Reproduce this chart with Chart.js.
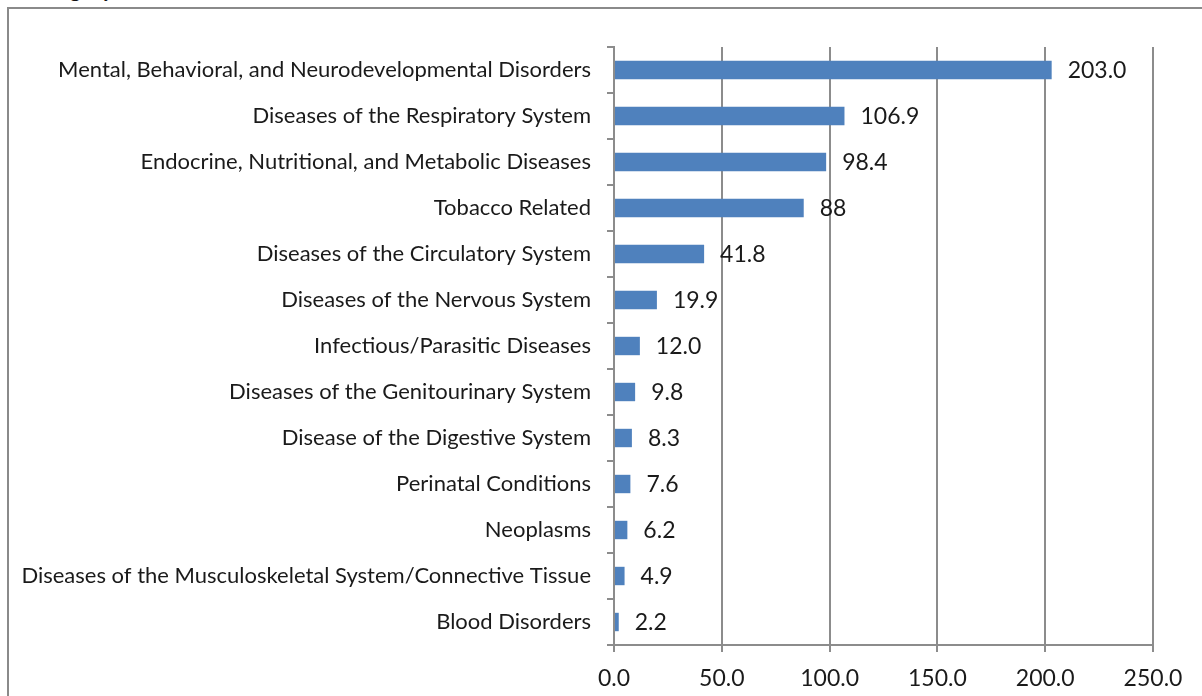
<!DOCTYPE html>
<html>
<head>
<meta charset="utf-8">
<script src="https://cdn.jsdelivr.net/npm/chart.js@4"></script>
<style>
  html, body { margin: 0; padding: 0; background: #fff; overflow: hidden; }
  #wrap { position: relative; width: 1202px; height: 696px; }
  #frame { position: absolute; left: 7px; top: 7px; width: 1220px; height: 720px; border-left: 2px solid #8a8a8a; border-top: 2px solid #8a8a8a; }
  #title { position: absolute; left: 24px; top: -25px; font: bold 22px Lato, sans-serif; color: #111; white-space: nowrap; }
  canvas { position: absolute; left: 0; top: 0; }
</style>
</head>
<body>
<div id="wrap">
  <div id="title">Category</div>
  <div id="frame"></div>
  <canvas id="chart" width="1202" height="696"></canvas>
</div>
<script>
const categories = [
  "Mental, Behavioral, and Neurodevelopmental Disorders",
  "Diseases of the Respiratory System",
  "Endocrine, Nutritional, and Metabolic Diseases",
  "Tobacco Related",
  "Diseases of the Circulatory System",
  "Diseases of the Nervous System",
  "Infectious/Parasitic Diseases",
  "Diseases of the Genitourinary System",
  "Disease of the Digestive System",
  "Perinatal Conditions",
  "Neoplasms",
  "Diseases of the Musculoskeletal System/Connective Tissue",
  "Blood Disorders"
];
const values = [203.0, 106.9, 98.4, 88, 41.8, 19.9, 12.0, 9.8, 8.3, 7.6, 6.2, 4.9, 2.2];
const valueLabels = ["203.0", "106.9", "98.4", "88", "41.8", "19.9", "12.0", "9.8", "8.3", "7.6", "6.2", "4.9", "2.2"];
const xTicks = [0, 50, 100, 150, 200, 250];

const gridGray = '#8c8c8c';

// draws the number next to each bar
const barLabels = {
  id: 'barLabels',
  afterDatasetsDraw(chart) {
    const ctx = chart.ctx;
    const meta = chart.getDatasetMeta(0);
    ctx.save();
    ctx.font = '23px Lato, sans-serif';
    ctx.fillStyle = '#1a1a1a';
    ctx.textBaseline = 'middle';
    ctx.textAlign = 'left';
    meta.data.forEach((bar, i) => {
      ctx.fillText(valueLabels[i], bar.x + 16, bar.y + 1);
    });
    ctx.restore();
  }
};

new Chart(document.getElementById('chart'), {
  type: 'bar',
  data: {
    labels: categories,
    datasets: [{
      data: values,
      backgroundColor: '#4f81bd',
      borderColor: '#4f81bd',
      borderWidth: 0,
      categoryPercentage: 1,
      barPercentage: 0.4
    }]
  },
  options: {
    indexAxis: 'y',
    responsive: false,
    animation: false,
    layout: { padding: { left: 0, right: 49, top: 47, bottom: 0 } },
    plugins: {
      legend: { display: false },
      tooltip: { enabled: false }
    },
    scales: {
      x: {
        min: 0,
        max: 250,
        afterBuildTicks(scale) {
          scale.ticks = xTicks.map(v => ({ value: v }));
        },
        afterFit(scale) { scale.height = 51; },
        grid: { color: gridGray, lineWidth: 2, tickLength: 7, drawTicks: true },
        border: { display: true, color: gridGray, width: 2 },
        ticks: {
          callback: v => Number(v).toFixed(1),
          font: { family: 'Lato', size: 23 },
          color: '#1a1a1a',
          padding: 13,
          maxRotation: 0
        }
      },
      y: {
        afterFit(scale) { scale.width = 614; },
        grid: { drawOnChartArea: false, drawTicks: true, tickLength: 7, color: gridGray, lineWidth: 2, offset: true },
        border: { display: true, color: gridGray, width: 2 },
        ticks: {
          font: { family: 'Lato', size: 22 },
          color: '#1a1a1a',
          padding: 16,
          autoSkip: false
        }
      }
    }
  },
  plugins: [barLabels]
});
</script>
</body>
</html>
